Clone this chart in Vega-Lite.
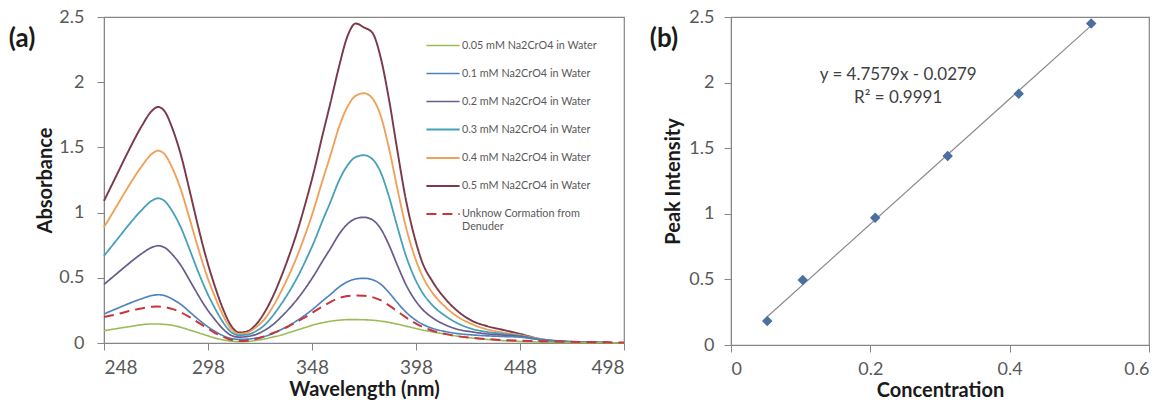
{
  "$schema": "https://vega.github.io/schema/vega-lite/v6.json",
  "padding": {"left": 8, "top": 7, "right": 0, "bottom": 0},
  "spacing": 20,
  "datasets": {
    "spectra": [
      {"s":"0.5","w":248,"a":1.09},{"s":"0.5","w":254,"a":1.285},{"s":"0.5","w":260,"a":1.48},{"s":"0.5","w":266,"a":1.66},{"s":"0.5","w":271,"a":1.78},{"s":"0.5","w":274,"a":1.81},{"s":"0.5","w":277,"a":1.78},{"s":"0.5","w":281,"a":1.64},{"s":"0.5","w":285,"a":1.44},{"s":"0.5","w":289,"a":1.18},{"s":"0.5","w":293,"a":0.91},{"s":"0.5","w":297,"a":0.66},{"s":"0.5","w":301,"a":0.45},{"s":"0.5","w":305,"a":0.27},{"s":"0.5","w":309,"a":0.135},{"s":"0.5","w":313,"a":0.08},{"s":"0.5","w":317,"a":0.09},{"s":"0.5","w":321,"a":0.14},{"s":"0.5","w":325,"a":0.23},{"s":"0.5","w":329,"a":0.35},{"s":"0.5","w":333,"a":0.5},{"s":"0.5","w":337,"a":0.67},{"s":"0.5","w":341,"a":0.86},{"s":"0.5","w":345,"a":1.08},{"s":"0.5","w":349,"a":1.32},{"s":"0.5","w":353,"a":1.59},{"s":"0.5","w":357,"a":1.85},{"s":"0.5","w":361,"a":2.12},{"s":"0.5","w":365,"a":2.35},{"s":"0.5","w":369,"a":2.45},{"s":"0.5","w":373,"a":2.42},{"s":"0.5","w":377,"a":2.38},{"s":"0.5","w":381,"a":2.19},{"s":"0.5","w":385,"a":1.87},{"s":"0.5","w":389,"a":1.48},{"s":"0.5","w":393,"a":1.11},{"s":"0.5","w":397,"a":0.83},{"s":"0.5","w":401,"a":0.62},{"s":"0.5","w":406,"a":0.47},{"s":"0.5","w":412,"a":0.34},{"s":"0.5","w":418,"a":0.245},{"s":"0.5","w":425,"a":0.17},{"s":"0.5","w":432,"a":0.13},{"s":"0.5","w":440,"a":0.1},{"s":"0.5","w":448,"a":0.07},{"s":"0.5","w":458,"a":0.03},{"s":"0.5","w":470,"a":0.01},{"s":"0.5","w":485,"a":0.003},{"s":"0.5","w":498,"a":0},
      {"s":"0.4","w":248,"a":0.888},{"s":"0.4","w":254,"a":1.047},{"s":"0.4","w":260,"a":1.207},{"s":"0.4","w":266,"a":1.353},{"s":"0.4","w":271,"a":1.45},{"s":"0.4","w":274,"a":1.475},{"s":"0.4","w":277,"a":1.45},{"s":"0.4","w":281,"a":1.336},{"s":"0.4","w":285,"a":1.174},{"s":"0.4","w":289,"a":0.962},{"s":"0.4","w":293,"a":0.742},{"s":"0.4","w":297,"a":0.538},{"s":"0.4","w":301,"a":0.367},{"s":"0.4","w":305,"a":0.22},{"s":"0.4","w":309,"a":0.11},{"s":"0.4","w":313,"a":0.07},{"s":"0.4","w":317,"a":0.08},{"s":"0.4","w":321,"a":0.12},{"s":"0.4","w":325,"a":0.18},{"s":"0.4","w":329,"a":0.274},{"s":"0.4","w":333,"a":0.391},{"s":"0.4","w":337,"a":0.523},{"s":"0.4","w":341,"a":0.672},{"s":"0.4","w":345,"a":0.843},{"s":"0.4","w":349,"a":1.032},{"s":"0.4","w":353,"a":1.243},{"s":"0.4","w":357,"a":1.446},{"s":"0.4","w":361,"a":1.656},{"s":"0.4","w":365,"a":1.81},{"s":"0.4","w":369,"a":1.896},{"s":"0.4","w":373,"a":1.915},{"s":"0.4","w":377,"a":1.877},{"s":"0.4","w":381,"a":1.743},{"s":"0.4","w":385,"a":1.494},{"s":"0.4","w":389,"a":1.187},{"s":"0.4","w":393,"a":0.9},{"s":"0.4","w":397,"a":0.68},{"s":"0.4","w":401,"a":0.517},{"s":"0.4","w":406,"a":0.383},{"s":"0.4","w":412,"a":0.278},{"s":"0.4","w":418,"a":0.201},{"s":"0.4","w":425,"a":0.144},{"s":"0.4","w":432,"a":0.105},{"s":"0.4","w":440,"a":0.08},{"s":"0.4","w":448,"a":0.06},{"s":"0.4","w":458,"a":0.03},{"s":"0.4","w":470,"a":0.012},{"s":"0.4","w":485,"a":0.004},{"s":"0.4","w":498,"a":0},
      {"s":"0.3","w":248,"a":0.668},{"s":"0.3","w":254,"a":0.788},{"s":"0.3","w":260,"a":0.908},{"s":"0.3","w":266,"a":1.018},{"s":"0.3","w":271,"a":1.091},{"s":"0.3","w":274,"a":1.11},{"s":"0.3","w":277,"a":1.091},{"s":"0.3","w":281,"a":1.006},{"s":"0.3","w":285,"a":0.884},{"s":"0.3","w":289,"a":0.724},{"s":"0.3","w":293,"a":0.558},{"s":"0.3","w":297,"a":0.405},{"s":"0.3","w":301,"a":0.276},{"s":"0.3","w":305,"a":0.165},{"s":"0.3","w":309,"a":0.085},{"s":"0.3","w":313,"a":0.06},{"s":"0.3","w":317,"a":0.065},{"s":"0.3","w":321,"a":0.09},{"s":"0.3","w":325,"a":0.135},{"s":"0.3","w":329,"a":0.206},{"s":"0.3","w":333,"a":0.294},{"s":"0.3","w":337,"a":0.393},{"s":"0.3","w":341,"a":0.505},{"s":"0.3","w":345,"a":0.634},{"s":"0.3","w":349,"a":0.776},{"s":"0.3","w":353,"a":0.935},{"s":"0.3","w":357,"a":1.087},{"s":"0.3","w":361,"a":1.246},{"s":"0.3","w":365,"a":1.361},{"s":"0.3","w":369,"a":1.426},{"s":"0.3","w":373,"a":1.44},{"s":"0.3","w":377,"a":1.411},{"s":"0.3","w":381,"a":1.31},{"s":"0.3","w":385,"a":1.123},{"s":"0.3","w":389,"a":0.893},{"s":"0.3","w":393,"a":0.677},{"s":"0.3","w":397,"a":0.511},{"s":"0.3","w":401,"a":0.389},{"s":"0.3","w":406,"a":0.288},{"s":"0.3","w":412,"a":0.209},{"s":"0.3","w":418,"a":0.151},{"s":"0.3","w":425,"a":0.108},{"s":"0.3","w":432,"a":0.085},{"s":"0.3","w":440,"a":0.07},{"s":"0.3","w":448,"a":0.055},{"s":"0.3","w":458,"a":0.028},{"s":"0.3","w":470,"a":0.012},{"s":"0.3","w":485,"a":0.004},{"s":"0.3","w":498,"a":0},
      {"s":"0.2","w":248,"a":0.449},{"s":"0.2","w":254,"a":0.53},{"s":"0.2","w":260,"a":0.61},{"s":"0.2","w":266,"a":0.684},{"s":"0.2","w":271,"a":0.733},{"s":"0.2","w":274,"a":0.746},{"s":"0.2","w":277,"a":0.733},{"s":"0.2","w":281,"a":0.676},{"s":"0.2","w":285,"a":0.594},{"s":"0.2","w":289,"a":0.486},{"s":"0.2","w":293,"a":0.375},{"s":"0.2","w":297,"a":0.272},{"s":"0.2","w":301,"a":0.186},{"s":"0.2","w":305,"a":0.111},{"s":"0.2","w":309,"a":0.06},{"s":"0.2","w":313,"a":0.045},{"s":"0.2","w":317,"a":0.05},{"s":"0.2","w":321,"a":0.065},{"s":"0.2","w":325,"a":0.095},{"s":"0.2","w":329,"a":0.138},{"s":"0.2","w":333,"a":0.197},{"s":"0.2","w":337,"a":0.263},{"s":"0.2","w":341,"a":0.338},{"s":"0.2","w":345,"a":0.424},{"s":"0.2","w":349,"a":0.52},{"s":"0.2","w":353,"a":0.626},{"s":"0.2","w":357,"a":0.728},{"s":"0.2","w":361,"a":0.834},{"s":"0.2","w":365,"a":0.911},{"s":"0.2","w":369,"a":0.954},{"s":"0.2","w":373,"a":0.964},{"s":"0.2","w":377,"a":0.945},{"s":"0.2","w":381,"a":0.877},{"s":"0.2","w":385,"a":0.752},{"s":"0.2","w":389,"a":0.598},{"s":"0.2","w":393,"a":0.453},{"s":"0.2","w":397,"a":0.342},{"s":"0.2","w":401,"a":0.26},{"s":"0.2","w":406,"a":0.193},{"s":"0.2","w":412,"a":0.14},{"s":"0.2","w":418,"a":0.105},{"s":"0.2","w":425,"a":0.085},{"s":"0.2","w":432,"a":0.07},{"s":"0.2","w":440,"a":0.06},{"s":"0.2","w":448,"a":0.05},{"s":"0.2","w":458,"a":0.025},{"s":"0.2","w":470,"a":0.01},{"s":"0.2","w":485,"a":0.004},{"s":"0.2","w":498,"a":0},
      {"s":"0.1","w":248,"a":0.223},{"s":"0.1","w":254,"a":0.263},{"s":"0.1","w":260,"a":0.303},{"s":"0.1","w":266,"a":0.339},{"s":"0.1","w":271,"a":0.364},{"s":"0.1","w":274,"a":0.37},{"s":"0.1","w":277,"a":0.364},{"s":"0.1","w":281,"a":0.335},{"s":"0.1","w":285,"a":0.295},{"s":"0.1","w":289,"a":0.241},{"s":"0.1","w":293,"a":0.186},{"s":"0.1","w":297,"a":0.135},{"s":"0.1","w":301,"a":0.092},{"s":"0.1","w":305,"a":0.058},{"s":"0.1","w":309,"a":0.035},{"s":"0.1","w":313,"a":0.028},{"s":"0.1","w":317,"a":0.03},{"s":"0.1","w":321,"a":0.038},{"s":"0.1","w":325,"a":0.05},{"s":"0.1","w":329,"a":0.071},{"s":"0.1","w":333,"a":0.101},{"s":"0.1","w":337,"a":0.135},{"s":"0.1","w":341,"a":0.174},{"s":"0.1","w":345,"a":0.218},{"s":"0.1","w":349,"a":0.267},{"s":"0.1","w":353,"a":0.322},{"s":"0.1","w":357,"a":0.374},{"s":"0.1","w":361,"a":0.429},{"s":"0.1","w":365,"a":0.469},{"s":"0.1","w":369,"a":0.491},{"s":"0.1","w":373,"a":0.496},{"s":"0.1","w":377,"a":0.486},{"s":"0.1","w":381,"a":0.451},{"s":"0.1","w":385,"a":0.387},{"s":"0.1","w":389,"a":0.31},{"s":"0.1","w":393,"a":0.24},{"s":"0.1","w":397,"a":0.185},{"s":"0.1","w":401,"a":0.145},{"s":"0.1","w":406,"a":0.112},{"s":"0.1","w":412,"a":0.088},{"s":"0.1","w":418,"a":0.072},{"s":"0.1","w":425,"a":0.062},{"s":"0.1","w":432,"a":0.055},{"s":"0.1","w":440,"a":0.05},{"s":"0.1","w":448,"a":0.045},{"s":"0.1","w":458,"a":0.025},{"s":"0.1","w":470,"a":0.01},{"s":"0.1","w":485,"a":0.004},{"s":"0.1","w":498,"a":0},
      {"s":"0.05","w":248,"a":0.094},{"s":"0.05","w":254,"a":0.11},{"s":"0.05","w":260,"a":0.125},{"s":"0.05","w":266,"a":0.14},{"s":"0.05","w":271,"a":0.146},{"s":"0.05","w":274,"a":0.146},{"s":"0.05","w":277,"a":0.143},{"s":"0.05","w":281,"a":0.135},{"s":"0.05","w":285,"a":0.12},{"s":"0.05","w":289,"a":0.1},{"s":"0.05","w":293,"a":0.08},{"s":"0.05","w":297,"a":0.06},{"s":"0.05","w":301,"a":0.04},{"s":"0.05","w":305,"a":0.025},{"s":"0.05","w":309,"a":0.015},{"s":"0.05","w":313,"a":0.01},{"s":"0.05","w":317,"a":0.012},{"s":"0.05","w":321,"a":0.02},{"s":"0.05","w":325,"a":0.03},{"s":"0.05","w":329,"a":0.045},{"s":"0.05","w":333,"a":0.06},{"s":"0.05","w":337,"a":0.08},{"s":"0.05","w":341,"a":0.1},{"s":"0.05","w":345,"a":0.12},{"s":"0.05","w":349,"a":0.14},{"s":"0.05","w":353,"a":0.155},{"s":"0.05","w":357,"a":0.167},{"s":"0.05","w":361,"a":0.175},{"s":"0.05","w":365,"a":0.179},{"s":"0.05","w":369,"a":0.179},{"s":"0.05","w":373,"a":0.178},{"s":"0.05","w":377,"a":0.175},{"s":"0.05","w":381,"a":0.168},{"s":"0.05","w":385,"a":0.158},{"s":"0.05","w":389,"a":0.145},{"s":"0.05","w":393,"a":0.13},{"s":"0.05","w":397,"a":0.115},{"s":"0.05","w":401,"a":0.1},{"s":"0.05","w":406,"a":0.085},{"s":"0.05","w":412,"a":0.068},{"s":"0.05","w":418,"a":0.052},{"s":"0.05","w":425,"a":0.038},{"s":"0.05","w":432,"a":0.028},{"s":"0.05","w":440,"a":0.018},{"s":"0.05","w":448,"a":0.012},{"s":"0.05","w":458,"a":0.007},{"s":"0.05","w":470,"a":0.004},{"s":"0.05","w":485,"a":0.002},{"s":"0.05","w":498,"a":0},
      {"s":"U","w":248,"a":0.2},{"s":"U","w":254,"a":0.22},{"s":"U","w":260,"a":0.245},{"s":"U","w":266,"a":0.265},{"s":"U","w":271,"a":0.278},{"s":"U","w":274,"a":0.28},{"s":"U","w":277,"a":0.275},{"s":"U","w":281,"a":0.26},{"s":"U","w":285,"a":0.235},{"s":"U","w":289,"a":0.2},{"s":"U","w":293,"a":0.16},{"s":"U","w":297,"a":0.12},{"s":"U","w":301,"a":0.08},{"s":"U","w":305,"a":0.05},{"s":"U","w":309,"a":0.025},{"s":"U","w":313,"a":0.015},{"s":"U","w":317,"a":0.018},{"s":"U","w":321,"a":0.03},{"s":"U","w":325,"a":0.05},{"s":"U","w":329,"a":0.075},{"s":"U","w":333,"a":0.1},{"s":"U","w":337,"a":0.13},{"s":"U","w":341,"a":0.165},{"s":"U","w":345,"a":0.2},{"s":"U","w":349,"a":0.24},{"s":"U","w":353,"a":0.28},{"s":"U","w":357,"a":0.315},{"s":"U","w":361,"a":0.345},{"s":"U","w":365,"a":0.36},{"s":"U","w":369,"a":0.365},{"s":"U","w":373,"a":0.363},{"s":"U","w":377,"a":0.352},{"s":"U","w":381,"a":0.328},{"s":"U","w":385,"a":0.288},{"s":"U","w":389,"a":0.243},{"s":"U","w":393,"a":0.198},{"s":"U","w":397,"a":0.158},{"s":"U","w":401,"a":0.124},{"s":"U","w":406,"a":0.094},{"s":"U","w":412,"a":0.07},{"s":"U","w":418,"a":0.052},{"s":"U","w":425,"a":0.04},{"s":"U","w":432,"a":0.03},{"s":"U","w":440,"a":0.022},{"s":"U","w":448,"a":0.018},{"s":"U","w":458,"a":0.014},{"s":"U","w":470,"a":0.01},{"s":"U","w":485,"a":0.006},{"s":"U","w":498,"a":0.004}
    ],
    "peaks": [
      {"c":0.052,"a":0.183},{"c":0.103,"a":0.495},{"c":0.207,"a":0.97},{"c":0.311,"a":1.44},{"c":0.413,"a":1.915},{"c":0.517,"a":2.45}
    ],
    "eq": [
      {"c":0.24,"a":2.06,"t":"y = 4.7579x - 0.0279"},
      {"c":0.24,"a":1.88,"t":"R² = 0.9991"}
    ]
  },
  "hconcat": [
    {
      "width": 520,
      "height": 326,
      "title": {"text": "(a)", "anchor": "start", "frame": "bounds", "orient": "top", "offset": -44, "dx": -27, "fontSize": 26, "fontWeight": "bold", "color": "#1a1a1a", "font": "Lato"},
      "data": {"name": "spectra"},
      "mark": {"type": "line", "interpolate": "monotone"},
      "encoding": {
        "x": {"field": "w", "type": "quantitative", "scale": {"domain": [248, 498], "nice": false, "zero": false},
              "axis": {"values": [248, 298, 348, 398, 448, 498], "title": "Wavelength (nm)", "labelPadding": 8, "titlePadding": 2, "labelFontSize": 19}},
        "y": {"field": "a", "type": "quantitative", "scale": {"domain": [0, 2.5], "nice": false},
              "axis": {"values": [0, 0.5, 1, 1.5, 2, 2.5], "format": "~g", "title": "Absorbance", "labelPadding": 13, "titlePadding": 3}},
        "color": {"field": "s", "type": "nominal",
                  "scale": {"domain": ["0.05", "0.1", "0.2", "0.3", "0.4", "0.5", "U"],
                            "range": ["#9BBB59", "#4F81BD", "#6B5B8C", "#45A0B8", "#F0A058", "#7B3A4A", "#C9353A"]},
                  "legend": {"orient": "none", "legendX": 321, "legendY": 11, "title": null, "symbolType": "stroke", "symbolSize": 1100,
                             "labelFontSize": 10.8, "labelColor": "#595959", "labelFont": "Lato", "rowPadding": 5, "labelOffset": 1,
                             "labelExpr": "datum.label == 'U' ? ['Unknow Cormation from', 'Denuder'] : datum.label + ' mM Na2CrO4 in Water'"}},
        "strokeDash": {"field": "s", "type": "nominal",
                       "scale": {"domain": ["0.05", "0.1", "0.2", "0.3", "0.4", "0.5", "U"],
                                 "range": [[1, 0], [1, 0], [1, 0], [1, 0], [1, 0], [1, 0], [10, 6]]}},
        "strokeWidth": {"field": "s", "type": "nominal",
                        "scale": {"domain": ["0.05", "0.1", "0.2", "0.3", "0.4", "0.5", "U"],
                                  "range": [1.6, 2, 2, 1.8, 1.8, 1.8, 3.8]}}
      }
    },
    {
      "width": 418,
      "height": 328,
      "title": {"text": "(b)", "anchor": "start", "frame": "bounds", "orient": "top", "offset": -44, "dx": -14, "fontSize": 26, "fontWeight": "bold", "color": "#1a1a1a", "font": "Lato"},
      "encoding": {
        "x": {"field": "c", "type": "quantitative", "scale": {"domain": [0, 0.6], "nice": false},
              "axis": {"values": [0, 0.2, 0.4, 0.6], "format": "~g", "title": "Concentration", "labelPadding": 8, "titlePadding": 2}},
        "y": {"field": "a", "type": "quantitative", "scale": {"domain": [0, 2.5], "nice": false},
              "axis": {"values": [0, 0.5, 1, 1.5, 2, 2.5], "format": "~g", "title": "Peak Intensity", "labelPadding": 10, "titlePadding": 5}}
      },
      "layer": [
        {
          "data": {"name": "peaks"},
          "transform": [{"regression": "a", "on": "c", "extent": [0.052, 0.517]}],
          "mark": {"type": "line", "color": "#8C8C8C", "strokeWidth": 1.2}
        },
        {
          "data": {"name": "peaks"},
          "mark": {"type": "point", "shape": "diamond", "filled": true, "color": "#4A6FA0", "opacity": 1, "size": 110}
        },
        {
          "data": {"name": "eq"},
          "mark": {"type": "text", "fontSize": 17, "color": "#404040", "font": "Lato"},
          "encoding": {"text": {"field": "t", "type": "nominal"}}
        }
      ]
    }
  ],
  "config": {
    "font": "Lato",
    "view": {"stroke": "#868686", "strokeWidth": 1.2},
    "axis": {"labelFont": "Lato", "labelFontSize": 18, "labelColor": "#595959", "titleFont": "Lato", "titleFontSize": 20,
             "titleFontWeight": "bold", "titleColor": "#1a1a1a", "domainColor": "#868686", "tickColor": "#868686",
             "grid": false, "tickSize": 7}
  }
}
